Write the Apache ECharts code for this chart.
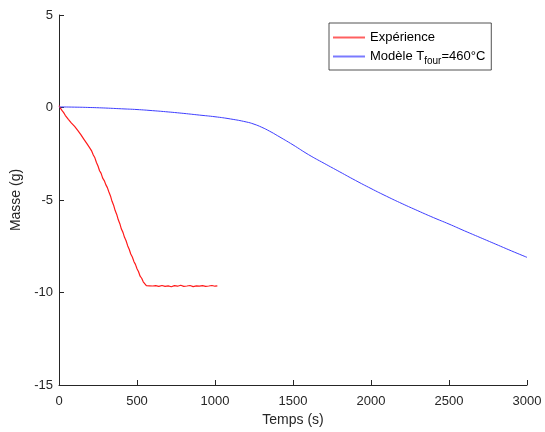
<!DOCTYPE html>
<html><head><meta charset="utf-8">
<script src="https://cdn.jsdelivr.net/npm/echarts@6/dist/echarts.min.js"></script>
<style>html,body{margin:0;padding:0;background:#fff}#c{width:545px;height:432px}</style>
</head><body><div id="c"></div>
<script>
const expTime = [0,10,20,30,40,50,60,70,80,90,100,110,120,130,140,150,160,170,180,190,200,210,220,230,240,250,260,270,280,290,300,310,320,330,340,350,360,370,380,390,400,410,420,430,440,450,460,470,480,490,500,510,520,530,540,550,560,570,580,590,600,610,620,630,640,650,660,670,680,690,700,710,720,730,740,750,760,770,780,790,800,810,820,830,840,850,860,870,880,890,900,910,920,930,940,950,960,970,980,990,1000,1015];
const expMass = [0.1,-0.05,-0.17,-0.28,-0.42,-0.5,-0.64,-0.69,-0.84,-0.89,-1.02,-1.1,-1.24,-1.31,-1.47,-1.56,-1.72,-1.8,-1.97,-2.03,-2.22,-2.36,-2.57,-2.72,-2.97,-3.16,-3.42,-3.56,-3.82,-3.95,-4.17,-4.33,-4.57,-4.78,-5.07,-5.28,-5.57,-5.78,-6.07,-6.28,-6.57,-6.75,-7.02,-7.2,-7.47,-7.66,-7.92,-8.08,-8.32,-8.48,-8.72,-8.88,-9.12,-9.23,-9.42,-9.5,-9.63,-9.67,-9.64,-9.68,-9.65,-9.62,-9.63,-9.68,-9.67,-9.62,-9.62,-9.66,-9.67,-9.63,-9.64,-9.68,-9.69,-9.62,-9.63,-9.67,-9.66,-9.63,-9.61,-9.66,-9.67,-9.64,-9.65,-9.68,-9.62,-9.65,-9.68,-9.63,-9.64,-9.67,-9.66,-9.62,-9.63,-9.68,-9.67,-9.63,-9.65,-9.61,-9.62,-9.67,-9.66,-9.64];
const modTime = [0,100,200,300,400,500,600,700,800,900,1000,1100,1200,1250,1300,1350,1400,1500,1600,1700,1800,1900,2000,2100,2200,2300,2400,2500,2600,2700,2800,2900,3000];
const modMass = [0.03,0.02,0.0,-0.03,-0.07,-0.11,-0.17,-0.24,-0.32,-0.41,-0.5,-0.62,-0.78,-0.9,-1.07,-1.28,-1.52,-2.02,-2.55,-3.02,-3.48,-3.94,-4.38,-4.8,-5.2,-5.58,-5.95,-6.3,-6.67,-7.03,-7.39,-7.75,-8.1];
const xTicks = [0,500,1000,1500,2000,2500,3000];
const yTicks = [-15,-10,-5,0,5];
const expName = 'Expérience';
const modName = 'Modèle T_four=460°C';

const redCol = '#ff1a1a';
const blueCol = '#3d3dff';
const chart = echarts.init(document.getElementById('c'));
const font = 'Liberation Sans, Arial, Helvetica, sans-serif';
const axisCol = '#262626';
chart.setOption({
  animation: false,
  backgroundColor: '#fff',
  grid: {left: 59, right: 18, top: 15, bottom: 47},
  legend: {
    orient: 'vertical', left: 329, top: 23,
    backgroundColor: '#fff', borderColor: '#262626', borderWidth: 0.8,
    padding: [8, 6, 4, 4], itemGap: 6, itemWidth: 32, itemHeight: 2,
    icon: 'rect',
    textStyle: {fontFamily: font, fontSize: 13, color: '#000',
      rich: {a: {fontFamily: font, fontSize: 13, color: '#000'},
             s: {fontFamily: font, fontSize: 10, color: '#000', verticalAlign: 'bottom', padding: [9, 0, 0, 0]}}},
    formatter: function (n) {
      if (n.indexOf('_') >= 0) {
        const p = n.split('_');
        const sub = p[1].split('=');
        return '{a|' + p[0] + '}{s|' + sub[0] + '}{a|=' + sub[1] + '}';
      }
      return '{a|' + n + '}';
    },
    data: [
      {name: expName, itemStyle: {color: '#ff6060', borderWidth: 0}},
      {name: modName, itemStyle: {color: '#7a7aff', borderWidth: 0}}
    ]
  },
  xAxis: {
    type: 'value', min: xTicks[0], max: xTicks[xTicks.length - 1], interval: 500,
    name: 'Temps (s)', nameLocation: 'middle', nameGap: 23,
    nameTextStyle: {fontFamily: font, fontSize: 14, color: axisCol},
    axisLine: {onZero: false, lineStyle: {color: axisCol, width: 1}},
    axisTick: {inside: true, length: 5, lineStyle: {color: axisCol}},
    axisLabel: {fontFamily: font, fontSize: 13, color: axisCol, margin: 10, formatter: v => String(v)},
    splitLine: {show: false}
  },
  yAxis: {
    type: 'value', min: yTicks[0], max: yTicks[yTicks.length - 1], interval: 5,
    name: 'Masse (g)', nameLocation: 'middle', nameGap: 34,
    nameTextStyle: {fontFamily: font, fontSize: 14, color: axisCol},
    axisLine: {show: true, onZero: false, lineStyle: {color: axisCol, width: 1}},
    axisTick: {show: true, inside: true, length: 5, lineStyle: {color: axisCol}},
    axisLabel: {fontFamily: font, fontSize: 13, color: axisCol, margin: 6, formatter: v => String(v)},
    splitLine: {show: false}
  },
  series: [
    {name: expName, type: 'line', symbol: 'none', lineStyle: {color: redCol, width: 1.2}, itemStyle: {color: redCol},
     data: expTime.map((t, i) => [t, expMass[i]])},
    {name: modName, type: 'line', symbol: 'none', smooth: true, lineStyle: {color: blueCol, width: 1}, itemStyle: {color: blueCol},
     data: modTime.map((t, i) => [t, modMass[i]])}
  ]
});
</script></body></html>
